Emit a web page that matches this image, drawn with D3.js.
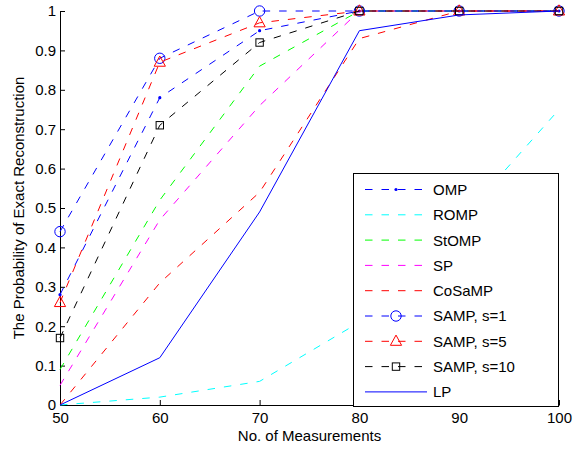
<!DOCTYPE html>
<html>
<head>
<meta charset="utf-8">
<script src="https://cdn.jsdelivr.net/npm/d3@7"></script>
<style>
  html, body { margin: 0; padding: 0; background: #fff; }
  svg { display: block; font-family: "Liberation Sans", Arial, Helvetica, sans-serif; }
</style>
</head>
<body>
<svg id="chart" width="586" height="450"></svg>
<script>
// Number of measurements (x) and recovery probability for each algorithm
const measurements = [50, 60, 70, 80, 90, 100];
const omp     = [0.28, 0.78, 0.95, 1, 1, 1];
const romp    = [0, 0.02, 0.06, 0.21, 0.465, 0.75];
const stomp   = [0.09, 0.52, 0.86, 1, 1, 1];
const sp      = [0.05, 0.47, 0.76, 1, 1, 1];
const cosamp  = [0, 0.31, 0.54, 0.93, 1, 1];
const samp1   = [0.44, 0.88, 1, 1, 1, 1];
const samp5   = [0.26, 0.87, 0.97, 1, 1, 1];
const samp10  = [0.17, 0.71, 0.92, 1, 1, 1];
const lp      = [0, 0.12, 0.49, 0.95, 0.99, 1];

const seriesNames = ["OMP", "ROMP", "StOMP", "SP", "CoSaMP", "SAMP, s=1", "SAMP, s=5", "SAMP, s=10", "LP"];
const xTicks = [50, 60, 70, 80, 90, 100];
const yTicks = [0, 0.1, 0.2, 0.3, 0.4, 0.5, 0.6, 0.7, 0.8, 0.9, 1];

const series = [
  { name: seriesNames[0], values: omp,    color: "#0000ff", dash: true,  marker: "dot" },
  { name: seriesNames[1], values: romp,   color: "#00ffff", dash: true,  marker: null },
  { name: seriesNames[2], values: stomp,  color: "#00ff00", dash: true,  marker: null },
  { name: seriesNames[3], values: sp,     color: "#ff00ff", dash: true,  marker: null },
  { name: seriesNames[4], values: cosamp, color: "#ff0000", dash: true,  marker: null },
  { name: seriesNames[5], values: samp1,  color: "#0000ff", dash: true,  marker: "circle" },
  { name: seriesNames[6], values: samp5,  color: "#ff0000", dash: true,  marker: "triangle" },
  { name: seriesNames[7], values: samp10, color: "#000000", dash: true,  marker: "square" },
  { name: seriesNames[8], values: lp,     color: "#0000ff", dash: false, marker: null }
];

const svg = d3.select("#chart");
const plotLeft = 60, plotRight = 559, plotTop = 11, plotBottom = 405;
const x = d3.scaleLinear().domain([50, 100]).range([plotLeft, plotRight]);
const y = d3.scaleLinear().domain([0, 1]).range([plotBottom, plotTop]);
const DASH = "7.5,9";
const FONT = 15;

// Axes (left and bottom only, ticks pointing inward)
const yAxis = d3.axisLeft(y).tickValues(yTicks).tickFormat(d3.format("")).tickSizeInner(-5).tickSizeOuter(0).tickPadding(4);
const xAxis = d3.axisBottom(x).tickValues(xTicks).tickFormat(d3.format("")).tickSizeInner(-5).tickSizeOuter(0).tickPadding(7);

const gy = svg.append("g").attr("transform", `translate(${plotLeft},0)`).call(yAxis);
const gx = svg.append("g").attr("transform", `translate(0,${plotBottom})`).call(xAxis);
[gx, gy].forEach(g => {
  g.selectAll("path, line").attr("stroke", "#000").attr("stroke-width", 1);
  g.selectAll("text").attr("fill", "#000").style("font-size", FONT + "px").attr("font-family", null);
});

// Markers
function drawMarker(g, type, color, cx, cy) {
  if (type === "dot") {
    g.append("circle").attr("cx", cx).attr("cy", cy).attr("r", 1.6).attr("fill", color);
  } else if (type === "circle") {
    g.append("circle").attr("cx", cx).attr("cy", cy).attr("r", 5.2)
      .attr("fill", "none").attr("stroke", color).attr("stroke-width", 1);
  } else if (type === "triangle") {
    g.append("path").attr("d", `M${cx},${cy - 6.2}L${cx + 5.6},${cy + 4}L${cx - 5.6},${cy + 4}Z`)
      .attr("fill", "none").attr("stroke", color).attr("stroke-width", 1);
  } else if (type === "square") {
    g.append("rect").attr("x", cx - 3.7).attr("y", cy - 3.7).attr("width", 7.4).attr("height", 7.4)
      .attr("fill", "none").attr("stroke", color).attr("stroke-width", 1);
  }
}

// Curves
const line = d3.line().x((d, i) => x(measurements[i])).y(d => y(d));
const plot = svg.append("g");
series.forEach(s => {
  const g = plot.append("g");
  g.append("path").attr("d", line(s.values))
    .attr("fill", "none").attr("stroke", s.color).attr("stroke-width", 1)
    .attr("stroke-dasharray", s.dash ? DASH : null);
  if (s.marker) s.values.forEach((v, i) => drawMarker(g, s.marker, s.color, x(measurements[i]), y(v)));
});

// Axis titles
svg.append("text").attr("x", (plotLeft + plotRight) / 2).attr("y", 441).attr("text-anchor", "middle")
  .style("font-size", FONT + "px").text("No. of Measurements");
svg.append("text").attr("transform", `translate(24,${(plotTop + plotBottom) / 2}) rotate(-90)`)
  .attr("text-anchor", "middle").style("font-size", FONT + "px")
  .text("The Probability of Exact Reconstruction");

// Legend
const lg = svg.append("g");
lg.append("rect").attr("x", 353).attr("y", 173).attr("width", 205).attr("height", 233)
  .attr("fill", "#fff").attr("stroke", "#000").attr("stroke-width", 1).attr("shape-rendering", "crispEdges");
series.forEach((s, i) => {
  const ly = 189.5 + i * 25.3;
  lg.append("line").attr("x1", 365).attr("x2", 427).attr("y1", ly).attr("y2", ly)
    .attr("stroke", s.color).attr("stroke-width", 1)
    .attr("stroke-dasharray", s.dash ? DASH : null);
  if (s.marker) drawMarker(lg, s.marker, s.color, 396, ly);
  lg.append("text").attr("x", 433).attr("y", ly).attr("dy", "0.36em")
    .style("font-size", FONT + "px").text(s.name);
});
</script>
</body>
</html>
